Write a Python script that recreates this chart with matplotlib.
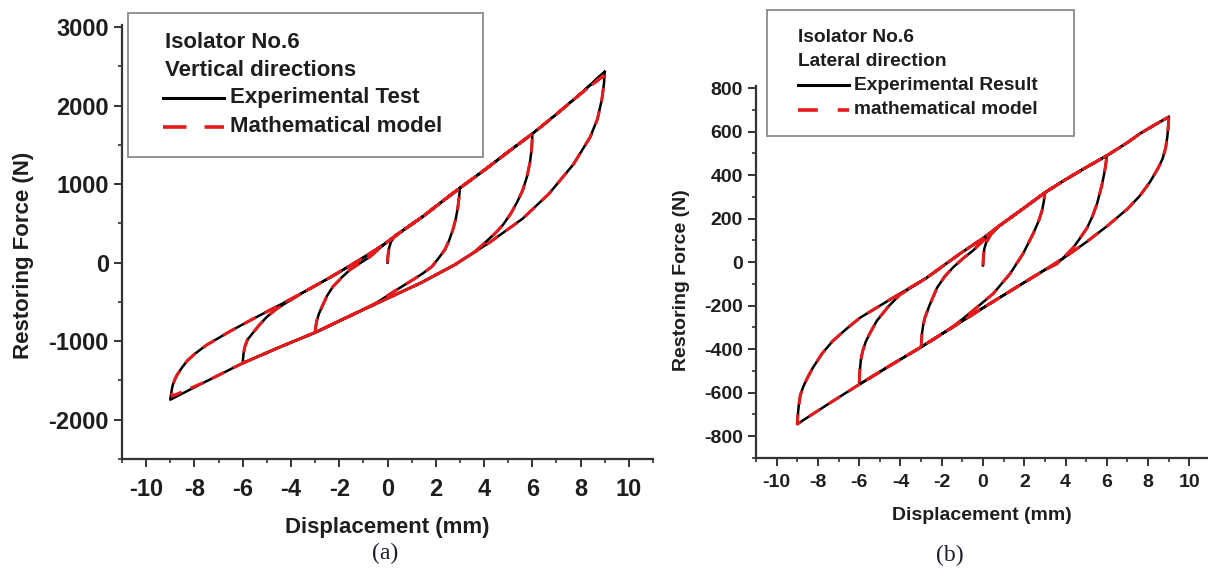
import matplotlib.pyplot as plt
from matplotlib.lines import Line2D
from matplotlib.patches import Rectangle
from matplotlib.ticker import MultipleLocator

plt.rcParams['font.family'] = ['Liberation Sans', 'DejaVu Sans']
plt.rcParams['font.weight'] = 'bold'
plt.rcParams['axes.labelweight'] = 'bold'
plt.rcParams['axes.unicode_minus'] = False

W, H = 1208, 575
RED = '#e41a1c'
INK = '#1e1e1e'

# ---------------- (a) vertical direction ----------------
# outer loading / unloading envelopes (mm, N)
A_UP_X = [-9, -8.95, -8.9, -8.8, -8.7, -8.5, -8.3, -8, -7.5, -6.5, -5.5, -4.5, -3.5,
          -2.5, -1.5, -0.5, 0, 0.64, 1.5, 2.25, 3, 4, 5, 6, 7, 8, 9]
A_UP_Y = [-1745, -1640, -1560, -1480, -1420, -1330, -1250, -1165, -1050, -870, -705,
          -545, -380, -210, -30, 160, 265, 410, 595, 775, 950, 1175, 1410, 1640, 1890,
          2150, 2430]
A_LO_X = [-9, -7.5, -6, -4.5, -3, -1.5, 0, 1.4, 2.8, 4.2, 5.6, 6.7, 7.7, 8.4, 8.7,
          8.88, 8.97, 9]
A_LO_Y = [-1745, -1510, -1280, -1080, -890, -670, -455, -255, -25, 250, 560, 880,
          1250, 1600, 1830, 2076, 2280, 2430]
# inner branches
A_INIT_X = [0, 0.02, 0.06, 0.14, 0.3, 0.64]
A_INIT_Y = [0, 90, 180, 260, 340, 410]
A_DESC3_X = [3, 2.97, 2.92, 2.83, 2.71, 2.55, 2.38, 2.1, 1.84, 1.45, 1.06, 0.39, -0.5]
A_DESC3_Y = [950, 840, 713, 560, 420, 280, 166, 50, -51, -140, -217, -344, -520]
A_RISE3_X = [-3, -2.97, -2.93, -2.84, -2.71, -2.5, -2.26, -1.9, -1.55, -1.1, -0.72, -0.3]
A_RISE3_Y = [-890, -810, -740, -650, -560, -420, -306, -190, -89, 0, 76, 190]
A_DESC6_X = [6, 5.99, 5.97, 5.9, 5.78, 5.6, 5.36, 5.1, 4.78, 4.5, 4.2, 3.9, 3.6]
A_DESC6_Y = [1640, 1540, 1440, 1270, 1096, 920, 764, 620, 480, 385, 300, 215, 135]
A_RISE6_X = [-6, -5.97, -5.92, -5.8, -5.57, -5.3, -4.99, -4.6, -4.16, -3.5]
A_RISE6_Y = [-1280, -1170, -1080, -980, -892, -790, -688, -590, -505, -380]
# model turning points at the largest amplitude
A_MOD_TROUGH = (-8.92, -1700)
A_MOD_PEAK = (8.95, 2380)

# ---------------- (b) lateral direction ----------------
B_UP_X = [-9, -8.97, -8.93, -8.85, -8.7, -8.5, -8.25, -7.8, -7.28, -6.6, -5.97, -4.37,
          -2.72, -1.12, 0, 0.83, 2, 3, 4, 5, 6, 7, 7.62, 8.3, 9]
B_UP_Y = [-744, -700, -660, -610, -570, -530, -486, -420, -362, -305, -256, -164,
          -71, 39, 110, 170, 250, 320, 380, 436, 490, 550, 592, 630, 668]
B_LO_X = [-9, -7.5, -6, -4.5, -3, -1.5, 0, 1.5, 3, 4, 5, 6, 7, 7.6, 8.1, 8.5, 8.7,
          8.85, 8.93, 8.98, 9]
B_LO_Y = [-744, -652, -562, -475, -390, -300, -210, -122, -35, 25, 92, 165, 245, 305,
          370, 435, 475, 525, 575, 625, 668]
B_INIT_X = [0, 0.02, 0.06, 0.15, 0.4, 0.83]
B_INIT_Y = [-15, 25, 60, 90, 130, 170]
B_DESC3_X = [3, 2.95, 2.86, 2.7, 2.43, 1.94, 1.31, 0.49, -0.49, -1.5]
B_DESC3_Y = [320, 280, 237, 190, 131, 39, -53, -145, -223, -300]
B_RISE3_X = [-3, -2.96, -2.9, -2.82, -2.6, -2.23, -1.85, -1.46, -1, -0.49, 0.4]
B_RISE3_Y = [-390, -330, -290, -256, -200, -118, -65, -25, 15, 53, 135]
B_DESC6_X = [6, 5.95, 5.88, 5.75, 5.53, 5.3, 5.05, 4.7, 4.37, 4, 3.59]
B_DESC6_Y = [490, 450, 410, 350, 270, 210, 159, 110, 67, 30, -7]
B_RISE6_X = [-6, -5.97, -5.92, -5.83, -5.68, -5.5, -5.15, -4.6, -4.03]
B_RISE6_Y = [-562, -500, -450, -408, -365, -330, -270, -205, -150]


def fx(x):
    return x / W


def fy(y):
    return 1 - y / H


def between(pts, a, b, descending=False):
    sel = [p for p in pts if a < p[0] < b]
    return sel[::-1] if descending else sel


def loop_path(up, lo, init, desc3, rise3, desc6, rise6):
    # 0 -> +3 -> -3 -> +6 -> -6 -> +9 -> -9 -> +9
    path = list(init)
    path += between(up, init[-1][0], desc3[0][0])
    path += desc3
    path += between(lo, rise3[0][0], desc3[-1][0], descending=True)
    path += rise3
    path += between(up, rise3[-1][0], desc6[0][0])
    path += desc6
    path += between(lo, rise6[0][0], desc6[-1][0], descending=True)
    path += rise6
    path += between(up, rise6[-1][0], 99)
    path += lo[::-1][1:]
    path += up[1:]
    xs, ys = zip(*path)
    return xs, ys


def style_axes(ax, xlim, ylim, ymaj, ymin, size, xpad):
    ax.set_xlim(*xlim)
    ax.set_ylim(*ylim)
    for side in ('top', 'right'):
        ax.spines[side].set_visible(False)
    for side in ('left', 'bottom'):
        ax.spines[side].set_linewidth(1.6)
        ax.spines[side].set_color('#333333')
    ax.xaxis.set_major_locator(MultipleLocator(2))
    ax.xaxis.set_minor_locator(MultipleLocator(1))
    ax.yaxis.set_major_locator(MultipleLocator(ymaj))
    ax.yaxis.set_minor_locator(MultipleLocator(ymin))
    ax.tick_params(which='major', direction='out', length=5.5, width=1.4,
                   color='#333333', labelsize=size, labelcolor=INK)
    ax.tick_params(which='minor', direction='out', length=3, width=1.2, color='#333333')
    ax.tick_params(axis='x', which='major', pad=xpad)
    ax.tick_params(axis='y', which='major', pad=4)
    ax.set_facecolor('none')


def draw_key(fig, box, x_text, rows, line_x, label_x, entries, size, dash):
    x0, y0, x1, y1 = box
    fig.add_artist(Rectangle((fx(x0), fy(y1)), fx(x1) - fx(x0), fy(y0) - fy(y1),
                             transform=fig.transFigure, fill=False,
                             ec='#8a8a8a', lw=1.3))
    for text, y in rows:
        fig.text(fx(x_text), fy(y), text, ha='left', va='center',
                 fontsize=size, color=INK)
    for (label, color, ls), y in entries:
        ln = Line2D([fx(line_x[0]), fx(line_x[1])], [fy(y), fy(y)],
                    transform=fig.transFigure, color=color, lw=2.2)
        if ls == 'dash':
            ln.set_dashes(dash)
            ln.set_linewidth(2.6)
        fig.add_artist(ln)
        fig.text(fx(label_x), fy(y), label, ha='left', va='center',
                 fontsize=size, color=INK)


fig = plt.figure(figsize=(W / 100, H / 100), dpi=100)

# ---- panel (a)
ax_a = fig.add_axes([fx(122), fy(459), fx(653) - fx(122), fy(25) - fy(459)])
a_up = list(zip(A_UP_X, A_UP_Y))
a_lo = list(zip(A_LO_X, A_LO_Y))
a_branches = [list(zip(A_INIT_X, A_INIT_Y)), list(zip(A_DESC3_X, A_DESC3_Y)),
              list(zip(A_RISE3_X, A_RISE3_Y)), list(zip(A_DESC6_X, A_DESC6_Y)),
              list(zip(A_RISE6_X, A_RISE6_Y))]
ax_ex, ay_ex = loop_path(a_up, a_lo, *a_branches)
a_up_mod = [A_MOD_TROUGH] + a_up[1:-1] + [A_MOD_PEAK]
a_lo_mod = [A_MOD_TROUGH] + a_lo[1:-1] + [A_MOD_PEAK]
ax_md, ay_md = loop_path(a_up_mod, a_lo_mod, *a_branches)
ax_a.plot(ax_ex, ay_ex, color='black', lw=1.8, solid_joinstyle='round')
ax_a.plot(ax_md, ay_md, color=RED, lw=2.2, dashes=(4.5, 3.2))
style_axes(ax_a, (-11, 11), (-2500, 3025), 1000, 500, 17, 8)
ax_a.set_yticks([-2000, -1000, 0, 1000, 2000, 3000])
ax_a.set_xticks(range(-10, 11, 2))
ax_a.set_xlabel('Displacement (mm)', fontsize=16, color=INK, va='center')
ax_a.xaxis.set_label_coords(0.5, (459 - 527) / 434)
ax_a.set_ylabel('Restoring Force (N)', fontsize=16, color=INK, va='center')
ax_a.yaxis.set_label_coords((24 - 122) / 531, (459 - 255) / 434)

draw_key(fig, (128, 13, 483, 157), 165,
         [('Isolator No.6', 43), ('Vertical directions', 70)],
         (163, 224), 230,
         [(('Experimental Test', 'black', 'solid'), 98),
          (('Mathematical model', RED, 'dash'), 127)],
         16, (6.5, 5.0))

# ---- panel (b)
ax_b = fig.add_axes([fx(756), fy(458), fx(1210) - fx(756), fy(86) - fy(458)])
b_up = list(zip(B_UP_X, B_UP_Y))
b_lo = list(zip(B_LO_X, B_LO_Y))
b_branches = [list(zip(B_INIT_X, B_INIT_Y)), list(zip(B_DESC3_X, B_DESC3_Y)),
              list(zip(B_RISE3_X, B_RISE3_Y)), list(zip(B_DESC6_X, B_DESC6_Y)),
              list(zip(B_RISE6_X, B_RISE6_Y))]
bx, by = loop_path(b_up, b_lo, *b_branches)
ax_b.plot(bx, by, color='black', lw=1.8, solid_joinstyle='round')
ax_b.plot(bx, by, color=RED, lw=2.2, dashes=(4.5, 3.2))
style_axes(ax_b, (-11, 11), (-900, 810), 200, 100, 14, 6)
ax_b.set_yticks(range(-800, 801, 200))
ax_b.set_xticks(range(-10, 11, 2))
ax_b.set_xlabel('Displacement (mm)', fontsize=14, color=INK, va='center')
ax_b.xaxis.set_label_coords((982 - 756) / 454, (458 - 516) / 372)
ax_b.set_ylabel('Restoring Force (N)', fontsize=14, color=INK, va='center')
ax_b.yaxis.set_label_coords((681 - 756) / 454, (458 - 280) / 372)

draw_key(fig, (767, 10, 1074, 136), 798,
         [('Isolator No.6', 37), ('Lateral direction', 61)],
         (798, 849), 854,
         [(('Experimental Result', 'black', 'solid'), 85),
          (('mathematical model', RED, 'dash'), 110)],
         13.8, (5.5, 5.5))

# panel captions
fig.text(fx(385), fy(553), '(a)', ha='center', va='center', fontsize=17,
         family=['Liberation Serif', 'DejaVu Serif'], weight='normal', color='#1c1c30')
fig.text(fx(950), fy(555), '(b)', ha='center', va='center', fontsize=17,
         family=['Liberation Serif', 'DejaVu Serif'], weight='normal', color='#1c1c30')

fig.savefig('out.png', dpi=100)
